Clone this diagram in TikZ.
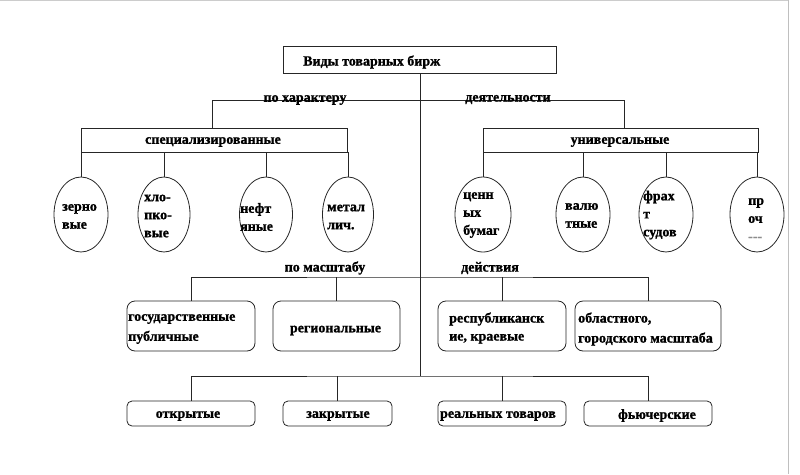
\documentclass[tikz,border=0pt]{standalone}
\usepackage{fontspec}
\setmainfont{Liberation Serif}[BoldFeatures={FakeBold=1.2}]
\usetikzlibrary{shapes.geometric}
\begin{document}
\begin{tikzpicture}[x=1pt,y=-1pt,
  ln/.style={draw=black!85,line width=0.8pt},
  txt/.style={font=\fontsize{14}{18}\selectfont\bfseries,inner sep=0pt,align=left},
  rbox/.style={ln,rectangle,inner sep=0pt},
  ebox/.style={ln,ellipse,inner sep=0pt,minimum width=54pt,minimum height=75pt},
  rnd/.style={ln,rectangle,rounded corners=8pt,inner sep=0pt,minimum height=50pt},
  rnds/.style={ln,rectangle,rounded corners=5pt,inner sep=0pt,minimum height=25pt},
  lbl/.style={txt},
  etxt/.style={txt,anchor=west}
]
\useasboundingbox (0,0) rectangle (800,474);
\draw[black!20,line width=1pt] (0,0.5) -- (788,0.5);
\draw[black!25,line width=1pt] (788,0) -- (788,474);

% title
\node[rbox,minimum width=273pt,minimum height=27pt] (title) at (419.5,59.5) {};
\node[txt,anchor=west] (ttitle) at (303,62) {Виды товарных бирж};

% main vertical and top bus
\coordinate (mainbot) at (420,376);
\coordinate (tl) at (212,100);
\coordinate (tr) at (624,100);
\draw[ln] (title.south -| mainbot) -- (mainbot);

% second level rectangles
\node[rbox,minimum width=266pt,minimum height=24pt] (spec) at (214,140) {};
\node[rbox,minimum width=275pt,minimum height=24pt] (univ) at (620.5,140) {};
\node[txt] (tspec) at (213,142) {специализированные};
\node[txt] (tuniv) at (620,142) {универсальные};

\draw[ln] (spec.north -| tl) -- (tl) -- (tr) -- (univ.north -| tr);
\node[lbl] (lchar) at (305,100) {по характеру};
\node[lbl] (ldeyat) at (508,99.5) {деятельности};

% ellipses
\node[ebox] (e1) at (81,214.5) {};
\node[ebox,minimum width=52pt] (e2) at (164,214.5) {};
\node[ebox,minimum width=53pt] (e3) at (266,214.5) {};
\node[ebox,minimum width=51pt] (e4) at (348,214.5) {};
\node[ebox,minimum width=56pt] (e5) at (483,214.5) {};
\node[ebox] (e6) at (583,214.5) {};
\node[ebox] (e7) at (666,214.5) {};
\node[ebox] (e8) at (757,214.5) {};
\foreach \e in {e1,e2,e3,e4}{\draw[ln] (spec.south -| \e.north) -- (\e.north);}
\foreach \e in {e5,e6,e7,e8}{\draw[ln] (univ.south -| \e.north) -- (\e.north);}

\node[etxt] (t1) at (62,216.5) {зерно\\вые};
\node[etxt] (t2) at (144,216) {хло-\\пко-\\вые};
\node[etxt] (t3) at (240,217) {нефт\\яные};
\node[etxt] (t4) at (327,217) {метал\\лич.};
\node[etxt] (t5) at (463,215) {ценн\\ых\\бумаг};
\node[etxt] (t6) at (565,215.5) {валю\\тные};
\node[etxt] (t7) at (643,215) {фрах\\т\\судов};
\node[etxt] (t8) at (748,219.5) {пр\\оч\\{\color{black!45}-{}-{}-}};

% middle level
\coordinate (mbus) at (420,277);
\node[rnd,minimum width=128pt] (b1) at (191,326) {};
\node[rnd,minimum width=127pt] (b2) at (336.5,326) {};
\node[rnd,minimum width=128pt] (b3) at (502,326) {};
\node[rnd,minimum width=146pt] (b4) at (648,326) {};
\draw[ln] (b1.north) |- (mbus) -| (b4.north);
\draw[ln] (b2.north) -- (b2.north |- mbus);
\draw[ln] (b3.north) -- (b3.north |- mbus);
\node[lbl] (lmasht) at (325,268) {по масштабу};
\node[lbl] (ldeyst) at (490,268) {действия};

\node[txt,anchor=west,font=\fontsize{14}{20}\selectfont\bfseries] (tb1) at (128,329) {государственные\\публичные};
\node[txt] (tb2) at (335.5,330.5) {региональные};
\node[txt,anchor=west] (tb3) at (449,328) {республиканск\\ие, краевые};
\node[txt,anchor=west,font=\fontsize{14}{20}\selectfont\bfseries] (tb4) at (578,329) {областного,\\городского масштаба};

% bottom level
\node[rnds,minimum width=128pt] (c1) at (191,413.5) {};
\node[rnds,minimum width=109pt] (c2) at (337.5,413.5) {};
\node[rnds,minimum width=128pt] (c3) at (502,413.5) {};
\node[rnds,minimum width=128pt] (c4) at (648,413.5) {};
\draw[ln] (c1.north) |- (mainbot) -| (c4.north);
\draw[ln] (c2.north) -- (c2.north |- mainbot);
\draw[ln] (c3.north) -- (c3.north |- mainbot);
\node[txt] (tc1) at (188,416) {открытые};
\node[txt] (tc2) at (338,416) {закрытые};
\node[txt] (tc3) at (498,416) {реальных товаров};
\node[txt] (tc4) at (657,415.5) {фьючерские};
\end{tikzpicture}
\end{document}
